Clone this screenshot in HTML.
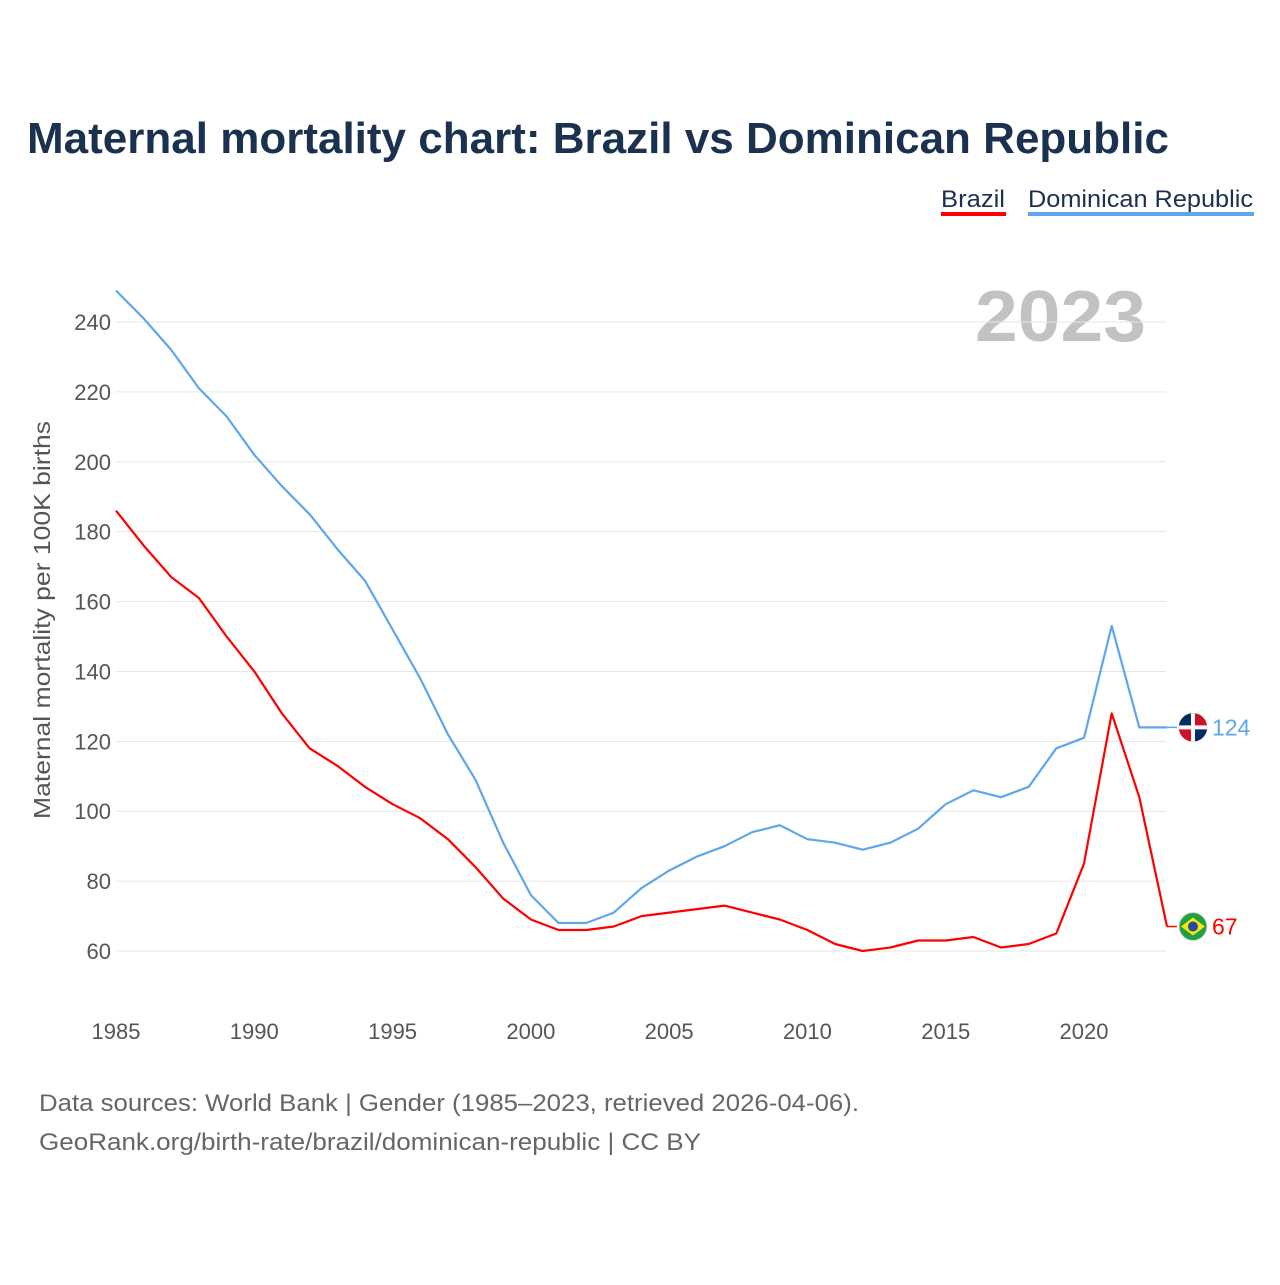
<!DOCTYPE html>
<html><head><meta charset="utf-8">
<style>
html,body{margin:0;padding:0;background:#fff;}
body{width:1280px;height:1280px;position:relative;font-family:"Liberation Sans",sans-serif;overflow:hidden;}
svg text{font-family:"Liberation Sans",sans-serif;}
</style></head>
<body>
<svg id="chart" width="1280" height="1280" xmlns="http://www.w3.org/2000/svg">
  <text x="27" y="153" font-size="44" font-weight="bold" fill="#1a3150" textLength="1142" lengthAdjust="spacingAndGlyphs">Maternal mortality chart: Brazil vs Dominican Republic</text>
  <g>
    <text x="941" y="207" font-size="24" fill="#1a3150" textLength="64" lengthAdjust="spacingAndGlyphs">Brazil</text>
    <rect x="941" y="212" width="65" height="4" fill="#ff0000"/>
  </g>
  <g>
    <text x="1028" y="207" font-size="24" fill="#1a3150" textLength="225" lengthAdjust="spacingAndGlyphs">Dominican Republic</text>
    <rect x="1028" y="212" width="226" height="4" fill="#5ea6ec"/>
  </g>
  <text x="975" y="341" font-size="72" font-weight="bold" fill="#c2c2c2" textLength="171" lengthAdjust="spacingAndGlyphs">2023</text>
  <text transform="translate(50,620) rotate(-90)" font-size="23" fill="#555" text-anchor="middle" textLength="398" lengthAdjust="spacingAndGlyphs">Maternal mortality per 100K births</text>
  <g id="grid"></g><g id="yticks"></g><g id="xticks"></g><g id="series"></g>
  <text x="39" y="1111" font-size="24" fill="#666" textLength="820" lengthAdjust="spacingAndGlyphs">Data sources: World Bank | Gender (1985–2023, retrieved 2026-04-06).</text>
  <text x="39" y="1150" font-size="24" fill="#666" textLength="662" lengthAdjust="spacingAndGlyphs">GeoRank.org/birth-rate/brazil/dominican-republic | CC BY</text>
</svg>
<script>
const years=[];for(let y=1985;y<=2023;y++)years.push(y);
const brazil=[186,176,167,161,150,140,128,118,113,107,102,98,92,84,75,69,66,66,67,70,71,72,73,71,69,66,62,60,61,63,63,64,61,62,65,85,128,104,67];
const dominican=[249,241,232,221,213,202,193,185,175,166,152,138,122,109,91,76,68,68,71,78,83,87,90,94,96,92,91,89,91,95,102,106,104,107,118,121,153,124,124];
const yTicks=[60,80,100,120,140,160,180,200,220,240];
const xTicks=[1985,1990,1995,2000,2005,2010,2015,2020];
const NS="http://www.w3.org/2000/svg";
const xs=v=>116+(v-1985)*(968/35);
const ys=v=>951-(v-60)*(629/180);
function mk(t,a,p){const e=document.createElementNS(NS,t);for(const k in a)e.setAttribute(k,a[k]);p.appendChild(e);return e;}
const grid=document.getElementById('grid'),yt=document.getElementById('yticks'),xt=document.getElementById('xticks'),se=document.getElementById('series');
yTicks.forEach(v=>{
  const l=mk('line',{x1:116,x2:1166,y1:ys(v),y2:ys(v),stroke:'#e6e6e6','stroke-width':1},grid);
  
  
  const t=mk('text',{x:111,y:ys(v)+8,'font-size':22,fill:'#555','text-anchor':'end'},yt);t.textContent=v;
  
  
});
xTicks.forEach(v=>{
  const t=mk('text',{x:xs(v),y:1039,'font-size':22,fill:'#555','text-anchor':'middle'},xt);t.textContent=v;
  
  
});
function line(data,color,name){
  const d=data.map((v,i)=>(i?'L':'M')+xs(years[i]).toFixed(1)+','+ys(v).toFixed(1)).join('');
  const p=mk('path',{d:d,fill:'none',stroke:color,'stroke-width':2.2,'stroke-linejoin':'round'},se);
  
  
  const last=data[data.length-1],lx=xs(years[years.length-1]),ly=ys(last);
  mk('line',{x1:lx,x2:lx+10,y1:ly,y2:ly,stroke:color,'stroke-width':1.5},se);
  const f=mk('circle',{cx:lx+26,cy:ly,r:14,fill:name==='brazil'?'#229e45':'#ffffff',stroke:'#ddd'},se);
  
  
  if(name==='brazil'){mk('polygon',{points:`${lx+14},${ly} ${lx+26},${ly-9} ${lx+38},${ly} ${lx+26},${ly+9}`,fill:'#f8e509'},se);mk('circle',{cx:lx+26,cy:ly,r:5,fill:'#2b49a3'},se);}
  else{mk('path',{d:`M${lx+12},${ly-2}h12v-12a14,14 0 0 0 -12,12z M${lx+28},${ly+2}v12a14,14 0 0 0 12,-12z`,fill:'#002d62'},se);mk('path',{d:`M${lx+28},${ly-2}h12a14,14 0 0 0 -12,-12z M${lx+24},${ly+2}h-12a14,14 0 0 0 12,12z`,fill:'#ce1126'},se);}
  const t=mk('text',{x:lx+45,y:ly+8,'font-size':23,fill:color},se);t.textContent=last;
  
  
}
line(dominican,'#5ea6ec','dominican-republic');
line(brazil,'#ff0000','brazil');
</script>
</body></html>
